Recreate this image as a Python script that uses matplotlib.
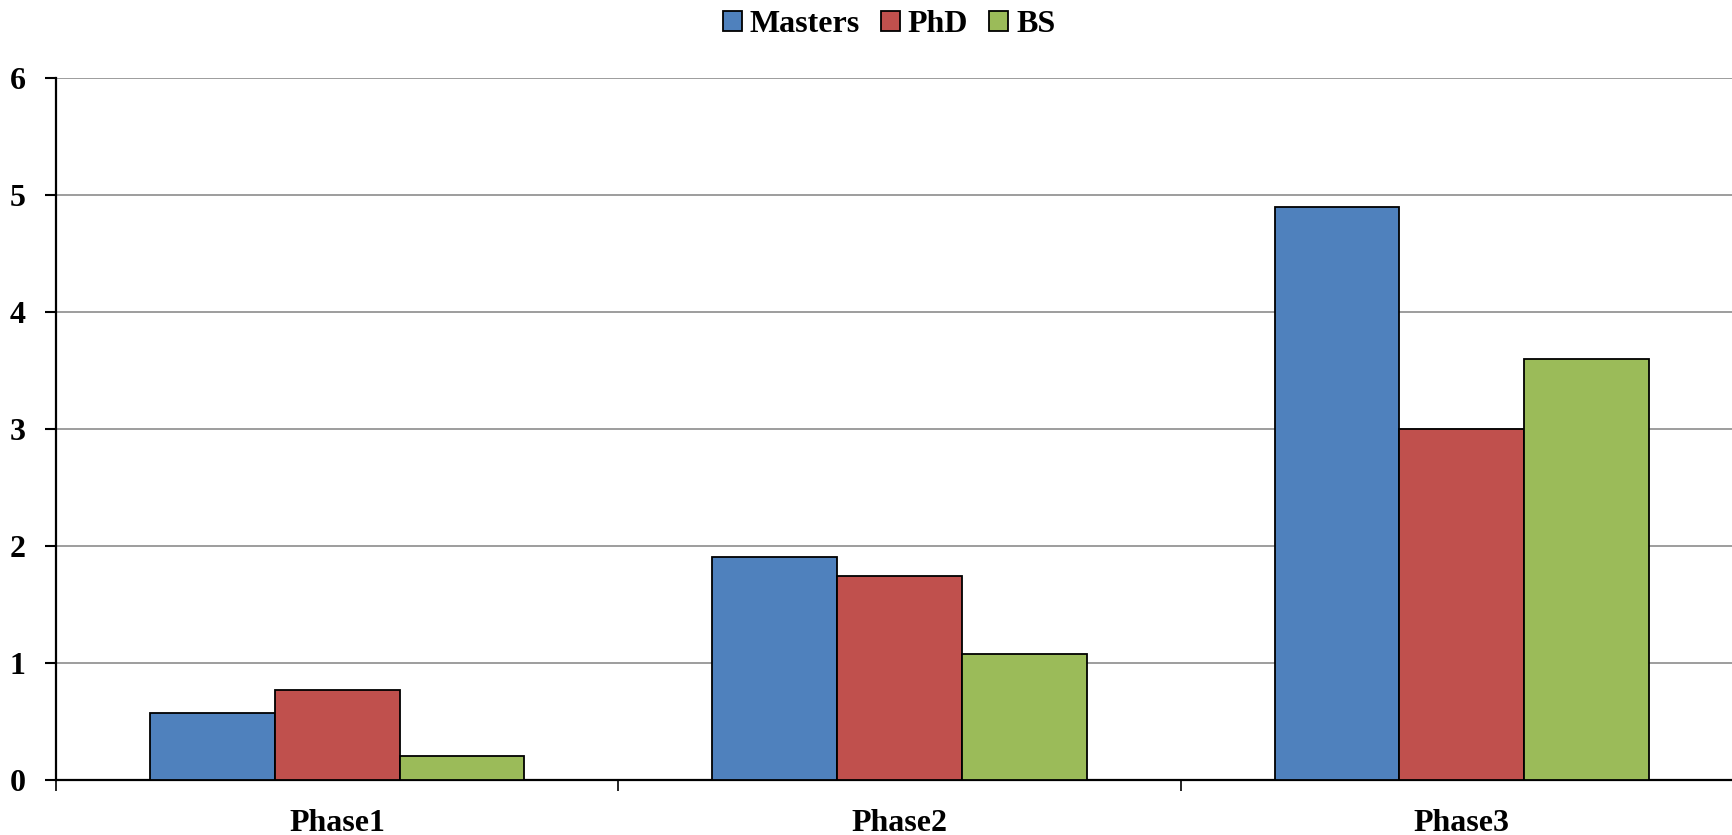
import numpy as np
import matplotlib
matplotlib.use('Agg')
import matplotlib.pyplot as plt

phases = ['Phase1', 'Phase2', 'Phase3']
series = ['Masters', 'PhD', 'BS']
masters = [0.575, 1.91, 4.9]
phd = [0.765, 1.745, 3.0]
bs = [0.205, 1.08, 3.6]
colors = ['#4F81BD', '#C0504D', '#9BBB59']

plt.rcParams['font.family'] = ['Liberation Serif', 'DejaVu Serif']
plt.rcParams['font.weight'] = 'bold'

fig = plt.figure(figsize=(17.33, 8.35), dpi=100)
ax = fig.add_axes([0.0323, 0.066, 0.9735, 0.840])

x = np.arange(len(phases))
width = 0.222
for i, (name, vals) in enumerate(zip(series, [masters, phd, bs])):
    ax.bar(x + (i - 1) * width, vals, width, color=colors[i],
           edgecolor='black', linewidth=1.3, label=name, zorder=3)

ax.set_xlim(-0.5, 2.5)
ax.set_ylim(0, 6)
ax.set_yticks(range(7))
ax.yaxis.grid(True, color='#8c8c8c', linewidth=1.2, zorder=0)
ax.set_axisbelow(True)

ax.set_xticks(x)
ax.set_xticklabels(phases, fontsize=23, fontweight='bold')
ax.tick_params(axis='x', which='major', length=0, pad=21)
ax.set_xticks([-0.5, 0.5, 1.5], minor=True)
ax.tick_params(axis='x', which='minor', length=8, width=1.2, direction='out')
ax.tick_params(axis='y', length=8, width=1.5, direction='out', pad=14,
               labelsize=23)
for lab in ax.get_yticklabels():
    lab.set_fontweight('bold')

for s in ['top', 'right']:
    ax.spines[s].set_visible(False)
ax.spines['left'].set_linewidth(1.6)
ax.spines['bottom'].set_linewidth(1.6)

fig.legend(loc='upper center', bbox_to_anchor=(0.513, 1.022), ncol=3,
           frameon=False, prop={'size': 23, 'weight': 'bold'},
           handlelength=0.6, handleheight=0.6, handletextpad=0.25,
           columnspacing=0.65)

fig.savefig('out.png', dpi=100)
